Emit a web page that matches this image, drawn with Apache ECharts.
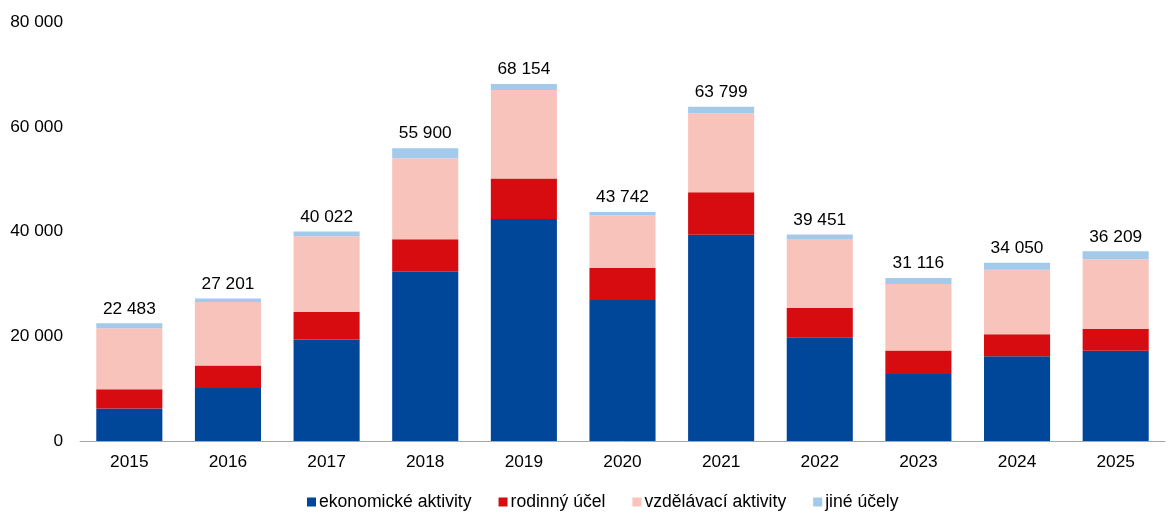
<!DOCTYPE html>
<html>
<head>
<meta charset="utf-8">
<script src="https://cdn.jsdelivr.net/npm/echarts@6/dist/echarts.min.js"></script>
<style>
  html, body { margin: 0; padding: 0; background: #fff; }
  #chart { width: 1168px; height: 514px; }
</style>
</head>
<body>
<div id="chart"></div>
<script>
const years = ['2015', '2016', '2017', '2018', '2019', '2020', '2021', '2022', '2023', '2024', '2025'];
const ekonomicke = [6200, 10100, 19400, 32300, 42400, 26900, 39400, 19800, 12800, 16200, 17250];
const rodinny = [3700, 4300, 5300, 6200, 7700, 6150, 8100, 5600, 4500, 4200, 4200];
const vzdelavaci = [11650, 12150, 14400, 15500, 16900, 10050, 15100, 13170, 12680, 12300, 13240];
const jine = [933, 651, 922, 1900, 1154, 642, 1199, 881, 1136, 1350, 1519];
const totals = [22483, 27201, 40022, 55900, 68154, 43742, 63799, 39451, 31116, 34050, 36209];
const yTicks = [0, 20000, 40000, 60000, 80000];

const fmt = (v) => String(v).replace(/\B(?=(\d{3})+(?!\d))/g, ' ');

const chart = echarts.init(document.getElementById('chart'));

const font = 'Liberation Sans, Arial, sans-serif';
const fs = 17.3;

const bar = (name, data, color) => ({
  name,
  type: 'bar',
  stack: 'total',
  data,
  barWidth: '67%',
  itemStyle: { color },
  emphasis: { disabled: true }
});

const series = [
  bar('ekonomické aktivity', ekonomicke, '#00479A'),
  bar('rodinný účel', rodinny, '#D70C11'),
  bar('vzdělávací aktivity', vzdelavaci, '#F8C3BB'),
  bar('jiné účely', jine, '#A3CAEB')
];
// popisky součtů nad sloupci
series[3].label = {
  show: true,
  position: 'top',
  distance: 6,
  color: '#000',
  fontSize: fs,
  fontFamily: font,
  formatter: (p) => fmt(totals[p.dataIndex])
};

chart.setOption({
  animation: false,
  textStyle: { fontFamily: font },
  grid: { left: 80, right: 3, top: 22, bottom: 73, containLabel: false },
  legend: {
    top: 493,
    left: 307,
    padding: 0,
    itemWidth: 9,
    itemHeight: 9,
    itemGap: 27,
    icon: 'rect',
    textStyle: { fontSize: 17.6, color: '#000', fontFamily: font, padding: [0, 0, 0, -2] },
    data: series.map((s) => s.name)
  },
  xAxis: {
    type: 'category',
    data: years,
    axisLine: { lineStyle: { color: '#A6A6A6', width: 1 } },
    axisTick: { show: false },
    axisLabel: { color: '#000', fontSize: fs, margin: 13, fontFamily: font }
  },
  yAxis: {
    type: 'value',
    min: yTicks[0],
    max: yTicks[yTicks.length - 1],
    interval: 20000,
    splitLine: { show: false },
    axisLine: { show: false },
    axisTick: { show: false },
    axisLabel: { color: '#000', fontSize: fs, margin: 17, fontFamily: font, formatter: (v) => fmt(v) }
  },
  series
});
</script>
</body>
</html>
